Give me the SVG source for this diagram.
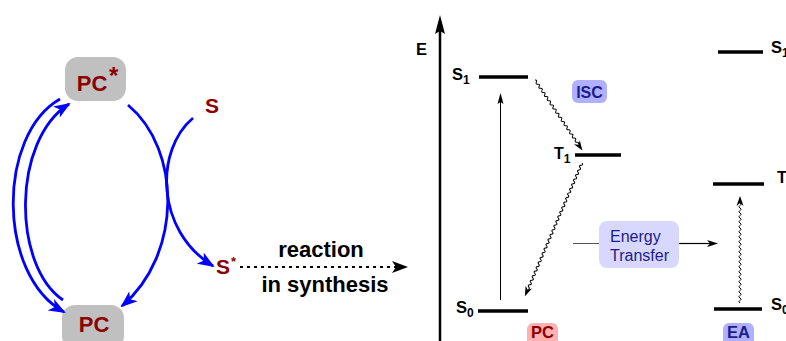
<svg xmlns="http://www.w3.org/2000/svg" width="786" height="341" viewBox="0 0 786 341">
<style>
.box{fill:#c0c0c0}
.red{fill:#8b0000;font-family:"Liberation Sans",Arial,sans-serif;font-weight:bold}
.blk{fill:#000;font-family:"Liberation Sans",Arial,sans-serif;font-weight:bold}
.navy{fill:#1c1c8c;font-family:"Liberation Sans",Arial,sans-serif}
.blue{fill:none;stroke:#0000ff;stroke-width:2.8;marker-end:url(#ba)}
.lvl{stroke:#000;stroke-width:3.5}
.wave{fill:none;stroke:#000;stroke-width:1}
</style>
<defs>
<marker id="ba" markerUnits="userSpaceOnUse" markerWidth="17" markerHeight="13" viewBox="0 0 17 13" refX="15" refY="6.5" orient="auto">
<path d="M0,0 L17,6.5 L0,13 L4.5,6.5 z" fill="#0000ff"/>
</marker>
</defs>
<g id="node-pcstar">
<rect class="box" x="65" y="57" width="61" height="44" rx="13"/>
<text class="red" x="92" y="91" font-size="22" text-anchor="middle">PC</text>
<text class="red" x="109" y="84" font-size="24">*</text>
</g>
<g id="node-pc">
<rect class="box" x="62" y="305" width="62" height="44" rx="13"/>
<text class="red" x="94" y="332" font-size="22" text-anchor="middle">PC</text>
</g>
<g id="node-s">
<text class="red" x="205" y="113" font-size="21">S</text>
</g>
<g id="node-sstar">
<text class="red" x="216" y="274" font-size="21">S</text>
<text class="red" x="231" y="266" font-size="13">*</text>
</g>
<g id="label-reaction">
<text class="blk" x="321" y="257" font-size="22" text-anchor="middle">reaction</text>
<text class="blk" x="325" y="292" font-size="22" text-anchor="middle">in synthesis</text>
</g>
<g id="connectors">
<path class="blue" d="M60,99 C-3,135 -3,275 64,312"/>
<path class="blue" d="M63,300 C12,265 12,140 69,104"/>
<path class="blue" d="M128,105 C182,150 182,255 122,306"/>
<path class="blue" d="M193,118 C155,150 155,230 213,266"/>
<line x1="240" y1="267" x2="396" y2="267" stroke="#000" stroke-width="2" stroke-dasharray="3,4"/>
<path d="M408,267 L392,261 L396,267 L392,273 z" fill="#000"/>
<line x1="440" y1="341" x2="440" y2="28" stroke="#000" stroke-width="2.5"/>
<path d="M440,15 L435,34 L440,31 L445,34 z" fill="#000"/>
<line x1="500.5" y1="300" x2="500.5" y2="100" stroke="#000" stroke-width="1"/>
<path d="M500.5,93 L497.5,104 L500.5,102 L503.5,104 z" fill="#000"/>
<g transform="translate(535,80) rotate(56.1)">
<path class="wave" d="M0,0 q1.25,-2.2 2.5,0 t2.5,0 t2.5,0 t2.5,0 t2.5,0 t2.5,0 t2.5,0 t2.5,0 t2.5,0 t2.5,0 t2.5,0 t2.5,0 t2.5,0 t2.5,0 t2.5,0 t2.5,0 t2.5,0 t2.5,0 t2.5,0 t2.5,0 t2.5,0 t2.5,0 t2.5,0 t2.5,0 t2.5,0 t2.5,0 t2.5,0 t2.5,0 t2.5,0 t2.5,0 t2.5,0"/>
<path d="M85,0 L75,-3.5 L78,0 L75,3.5 z"/>
</g>
<g transform="translate(582,163) rotate(113.2)">
<path class="wave" d="M0,0 q1.25,-2.2 2.5,0 t2.5,0 t2.5,0 t2.5,0 t2.5,0 t2.5,0 t2.5,0 t2.5,0 t2.5,0 t2.5,0 t2.5,0 t2.5,0 t2.5,0 t2.5,0 t2.5,0 t2.5,0 t2.5,0 t2.5,0 t2.5,0 t2.5,0 t2.5,0 t2.5,0 t2.5,0 t2.5,0 t2.5,0 t2.5,0 t2.5,0 t2.5,0 t2.5,0 t2.5,0 t2.5,0 t2.5,0 t2.5,0 t2.5,0 t2.5,0 t2.5,0 t2.5,0 t2.5,0 t2.5,0 t2.5,0 t2.5,0 t2.5,0 t2.5,0 t2.5,0 t2.5,0 t2.5,0 t2.5,0 t2.5,0 t2.5,0 t2.5,0 t2.5,0 t2.5,0 t2.5,0 t2.5,0 t2.5,0"/>
<path d="M145,0 L135,-3.5 L138,0 L135,3.5 z"/>
</g>
<g transform="translate(740,303) rotate(-90)">
<path class="wave" d="M0,0 q1.25,-2.2 2.5,0 t2.5,0 t2.5,0 t2.5,0 t2.5,0 t2.5,0 t2.5,0 t2.5,0 t2.5,0 t2.5,0 t2.5,0 t2.5,0 t2.5,0 t2.5,0 t2.5,0 t2.5,0 t2.5,0 t2.5,0 t2.5,0 t2.5,0 t2.5,0 t2.5,0 t2.5,0 t2.5,0 t2.5,0 t2.5,0 t2.5,0 t2.5,0 t2.5,0 t2.5,0 t2.5,0 t2.5,0 t2.5,0 t2.5,0 t2.5,0 t2.5,0 t2.5,0 t2.5,0 t2.5,0 t2.5,0"/>
<path d="M107,0 L97,-3.5 L100,0 L97,3.5 z"/>
</g>
<line x1="573" y1="243.5" x2="599" y2="243.5" stroke="#555" stroke-width="1"/>
<line x1="679" y1="243.5" x2="710" y2="243.5" stroke="#000" stroke-width="1.2"/>
<path d="M718,243.5 L707,240 L710,243.5 L707,247 z" fill="#000"/>
</g>
<g id="axis-label">
<text class="blk" x="416" y="55" font-size="16.5">E</text>
</g>
<g id="level-s1">
<line class="lvl" x1="479" y1="77" x2="528" y2="77"/>
<text class="blk" x="452" y="80" font-size="16.5">S<tspan font-size="12" dy="4">1</tspan></text>
</g>
<g id="level-t1">
<line class="lvl" x1="575" y1="155" x2="621" y2="155"/>
<text class="blk" x="554" y="159" font-size="16">T<tspan font-size="12" dy="4">1</tspan></text>
</g>
<g id="level-s0">
<line class="lvl" x1="478" y1="311" x2="528" y2="311"/>
<text class="blk" x="456" y="313" font-size="16.5">S<tspan font-size="12" dy="4">0</tspan></text>
</g>
<g id="level-ea-s1">
<line class="lvl" x1="718" y1="52" x2="763" y2="52"/>
<text class="blk" x="771" y="53" font-size="16.5">S<tspan font-size="12" dy="4">1</tspan></text>
</g>
<g id="level-ea-t">
<line class="lvl" x1="713" y1="184" x2="764" y2="184"/>
<text class="blk" x="777" y="183" font-size="16">T</text>
</g>
<g id="level-ea-s0">
<line class="lvl" x1="714" y1="309" x2="762" y2="309"/>
<text class="blk" x="771" y="310" font-size="16.5">S<tspan font-size="12" dy="4">0</tspan></text>
</g>
<g id="node-isc">
<rect x="572" y="80" width="35" height="23" rx="6" fill="#b0b0ff"/>
<text class="navy" x="589.5" y="98" font-size="16" font-weight="bold" text-anchor="middle">ISC</text>
</g>
<g id="node-energy-transfer">
<rect x="599" y="221" width="80" height="47" rx="8" fill="#d8d8ff"/>
<text class="navy" x="610" y="242" font-size="16">Energy</text>
<text class="navy" x="610" y="261" font-size="16">Transfer</text>
</g>
<g id="node-pc-label">
<rect x="527" y="323" width="31" height="24" rx="6" fill="#ffb0b0"/>
<text class="red" x="542.5" y="338" font-size="16.5" text-anchor="middle">PC</text>
</g>
<g id="node-ea-label">
<rect x="723" y="323" width="31" height="24" rx="6" fill="#b0b0ff"/>
<text class="navy" x="738.5" y="338" font-size="16.5" font-weight="bold" text-anchor="middle">EA</text>
</g>
</svg>
